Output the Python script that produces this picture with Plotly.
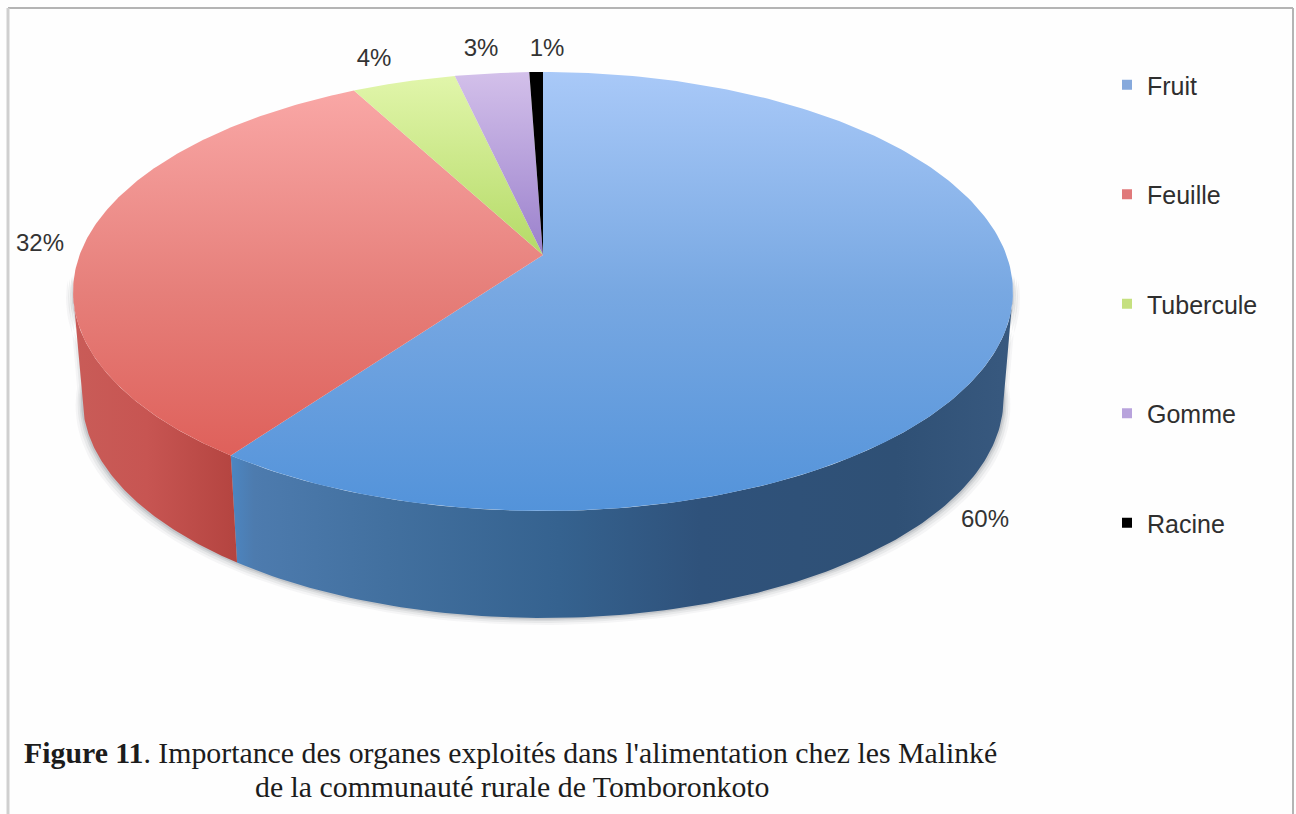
import numpy as np
import plotly.graph_objects as go

# ---- data ----
categories = ["Fruit", "Feuille", "Tubercule", "Gomme", "Racine"]
values = [59.9, 32.35, 4.2, 3.0, 0.55]
caption_line1 = "<b>Figure 11</b>. Importance des organes exploités dans l'alimentation chez les Malinké"
caption_line2 = "de la communauté rurale de Tomboronkoto"

# ---- styles ----
legend_colors = ["#86a9dc", "#e0797a", "#c5e07f", "#b8a3dc", "#000000"]
top_scales = [
    [[0, "#a9c9f8"], [0.5, "#78a8e2"], [1, "#5393da"]],
    [[0, "#fbabaa"], [0.5, "#e67f7a"], [1, "#dc5650"]],
    [[0, "#e2f6ac"], [0.42, "#b4da66"], [1, "#90c040"]],
    [[0, "#d3c0ea"], [0.42, "#9a80cc"], [1, "#7a60b0"]],
    [[0, "#000000"], [1, "#000000"]],
]
fruit_wall = [[0, "#4c86c2"], [0.03, "#4d7bae"], [0.2, "#42709f"], [0.42, "#35628f"],
              [0.6, "#2f527b"], [0.85, "#2f5075"], [1, "#38597f"]]
feuille_wall = [[0, "#c95c58"], [0.45, "#c75552"], [1, "#b44440"]]

# ---- projection of the pie disc on the page ----
W, H = 1296, 814
CX, CY = 543.0, 255.0
A, B, K = 463.4, 213.4, 0.1663
DEPTH, WALL_SHRINK = 107.0, 0.98
GRAD_TOP, GRAD_BOTTOM = 72, 511


def rim(theta_deg):
    t = np.radians(np.asarray(theta_deg, dtype=float))
    u, v = np.sin(t), -np.cos(t)
    s = 1.0 / (1.0 - K * v)
    return CX + A * u * s, CY + B * v * s


def wall(t1, t2):
    th = np.linspace(t1, t2, 120)
    x, y = rim(th)
    xb = CX + (x - CX) * WALL_SHRINK
    yb = y + DEPTH
    return np.r_[x, xb[::-1], x[0]], np.r_[y, yb[::-1], y[0]]


angles = np.cumsum([0] + values) / sum(values) * 360.0
fig = go.Figure()

# soft shadow around the lower edge
x_sh, y_sh = wall(95, 265)
for grow, alpha in [(7, 0.05), (5, 0.07), (3, 0.10), (1.5, 0.14)]:
    fig.add_trace(go.Scatter(
        x=CX + (x_sh - CX) * (1 + grow / 470), y=y_sh + grow, mode="lines", fill="toself",
        fillcolor=f"rgba(70,80,90,{alpha})", line=dict(width=0), showlegend=False, hoverinfo="skip"))

# side walls, limited to the visible front of the pie
x1, y1 = wall(100, angles[1])
fig.add_trace(go.Scatter(
    x=x1, y=y1, mode="lines", fill="toself", line=dict(width=0), showlegend=False, hoverinfo="skip",
    fillgradient=dict(type="horizontal", colorscale=fruit_wall, start=float(x1.min()), stop=float(x1.max()))))
x2, y2 = wall(angles[1], 260)
fig.add_trace(go.Scatter(
    x=x2, y=y2, mode="lines", fill="toself", line=dict(width=0), showlegend=False, hoverinfo="skip",
    fillgradient=dict(type="horizontal", colorscale=feuille_wall, start=float(x2.min()), stop=float(x2.max()))))

# top faces
for i, name in enumerate(categories):
    th = np.linspace(angles[i], angles[i + 1], 200)
    x, y = rim(th)
    fig.add_trace(go.Scatter(
        x=np.r_[CX, x, CX], y=np.r_[CY, y, CY], mode="lines", fill="toself", name=name,
        line=dict(width=0), showlegend=False, hoverinfo="skip",
        fillgradient=dict(type="vertical", colorscale=top_scales[i], start=GRAD_TOP, stop=GRAD_BOTTOM)))

# value labels
label_x = [985, 40, 374, 481, 547]
label_y = [521, 245, 60, 50, 50]
fig.add_trace(go.Scatter(
    x=label_x, y=label_y, mode="text", text=[f"{round(v)}%" for v in values],
    textposition="middle center", textfont=dict(family="Liberation Sans", size=24, color="#333333"),
    showlegend=False, hoverinfo="skip"))

# legend
for i, name in enumerate(categories):
    fig.add_trace(go.Scatter(
        x=[None], y=[None], mode="markers", name=name, legendgroup=name,
        marker=dict(symbol="square", size=10, color=legend_colors[i])))

fig.update_layout(
    width=W, height=H, margin=dict(l=0, r=0, t=0, b=0),
    paper_bgcolor="#fefefe", plot_bgcolor="#fefefe",
    xaxis=dict(range=[0, W], visible=False, domain=[0, 1], fixedrange=True),
    yaxis=dict(range=[H, 0], visible=False, domain=[0, 1], fixedrange=True),
    legend=dict(x=1107 / W, y=1 - 62 / H, xanchor="left", yanchor="top", tracegroupgap=74,
                bgcolor="rgba(0,0,0,0)", font=dict(family="Liberation Sans", size=25, color="#2f2f2f"),
                itemclick=False, itemdoubleclick=False),
    shapes=[
        dict(type="line", xref="x", yref="y", x0=8, x1=1293, y0=8, y1=8, line=dict(color="#b4b4b4", width=2)),
        dict(type="line", xref="x", yref="y", x0=8, x1=8, y0=8, y1=814, line=dict(color="#cfcfcf", width=3)),
        dict(type="line", xref="x", yref="y", x0=1293, x1=1293, y0=8, y1=814, line=dict(color="#b4b4b4", width=2)),
    ],
    annotations=[
        dict(x=510, y=752, xref="x", yref="y", text=caption_line1, showarrow=False,
             font=dict(family="Liberation Serif", size=29.8, color="#1c1c1c")),
        dict(x=512, y=786, xref="x", yref="y", text=caption_line2, showarrow=False,
             font=dict(family="Liberation Serif", size=29.8, color="#1c1c1c")),
    ],
)

fig.write_html("out.html", config={"displayModeBar": False},
               post_script="document.body.style.margin='0';document.body.style.overflow='hidden';")
